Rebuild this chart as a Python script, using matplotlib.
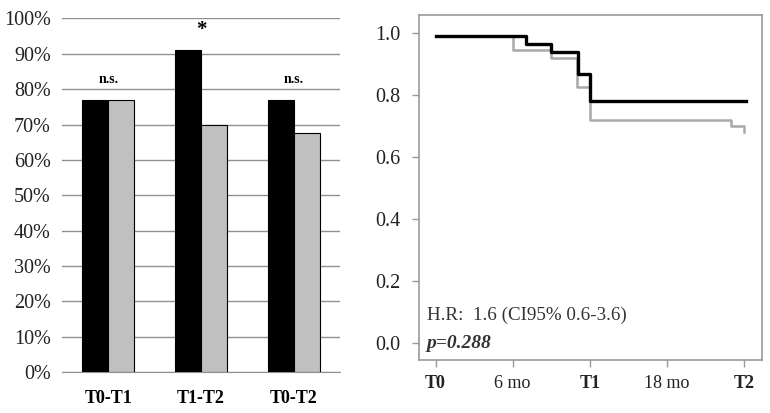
import numpy as np
import matplotlib.pyplot as plt
import matplotlib as mpl
mpl.rc('font', family='Liberation Serif')

# Bar panel data
groups = ["T0-T1", "T1-T2", "T0-T2"]
black_vals = [77, 91, 77]
gray_vals = [77, 70, 67.5]
marks = ["n.s.", "*", "n.s."]

# Survival curves (months, survival)
black_t = [0, 7, 9, 11.1, 12, 24.2]
black_s = [0.99, 0.965, 0.94, 0.87, 0.78, 0.78]
gray_t = [0, 6, 9, 11, 12, 23, 24, 24.01]
gray_s = [0.99, 0.945, 0.92, 0.825, 0.72, 0.70, 0.68, 0.68]

xticks_pos = [0, 6, 12, 18, 24]
xticks_lab = ["T0", "6 mo", "T1", "18 mo", "T2"]

fig = plt.figure(figsize=(7.7, 4.13), dpi=100)

# ---- left: bars ----
ax1 = fig.add_axes([0.0805, 0.0993, 0.361, 0.856])
x = np.arange(len(groups))
w = 0.28
ax1.bar(x - w/2, black_vals, w, color="black", edgecolor="black", linewidth=0.8, zorder=3)
ax1.bar(x + w/2, gray_vals, w, color="#c0c0c0", edgecolor="black", linewidth=0.8, zorder=3)
ax1.set_xlim(-0.5, 2.5)
ax1.set_ylim(0, 100)
ax1.set_yticks(np.arange(0, 101, 10))
ax1.set_yticklabels(["{}%".format(v) for v in range(0, 101, 10)], fontsize=14.5, color="#222222")
ax1.yaxis.grid(True, color="#909090", linewidth=1, zorder=0)
ax1.set_xticks(x)
ax1.set_xticklabels(groups, fontsize=13, fontweight="bold")
for s in ["top", "right", "left"]:
    ax1.spines[s].set_visible(False)
ax1.spines["bottom"].set_color("#909090")
ax1.tick_params(axis="both", length=0, pad=8)
ax1.tick_params(axis="x", pad=13)
for i, m in enumerate(marks):
    if m == "*":
        ax1.text(i, 94, m, ha="center", va="bottom", fontsize=15, fontweight="bold")
    else:
        ax1.text(i, 81, m, ha="center", va="bottom", fontsize=10, fontweight="bold")

# ---- right: survival ----
ax2 = fig.add_axes([0.544, 0.128, 0.4455, 0.835])
ax2.step(gray_t, gray_s, where="post", color="#a8a8a8", linewidth=1.8)
ax2.step(black_t, black_s, where="post", color="black", linewidth=2.4)
ax2.set_xlim(-1.3, 25.4)
ax2.set_ylim(-0.055, 1.058)
ax2.set_yticks(np.arange(0, 1.01, 0.2))
ax2.set_yticklabels(["{:.1f}".format(v) for v in np.arange(0, 1.01, 0.2)], fontsize=14.5)
ax2.set_xticks(xticks_pos)
ax2.set_xticklabels(xticks_lab, fontsize=13)
for lab in ax2.get_xticklabels():
    if lab.get_text().startswith("T"):
        lab.set_fontweight("bold")
for s in ax2.spines.values():
    s.set_color("#999999")
    s.set_linewidth(1.2)
ax2.tick_params(axis="both", colors="#999999", labelcolor="#222222", length=5, width=1)
ax2.tick_params(axis="x", pad=6)
ax2.tick_params(axis="y", pad=8)
ax2.text(-0.7, 0.075, "H.R:  1.6 (CI95% 0.6-3.6)", fontsize=13.7, color="#333333")
ax2.text(-0.7, 0.0, "p=0.288", fontsize=14, fontweight="bold", fontstyle="italic", color="#333333", va="center")

fig.savefig("out.png", dpi=100)
